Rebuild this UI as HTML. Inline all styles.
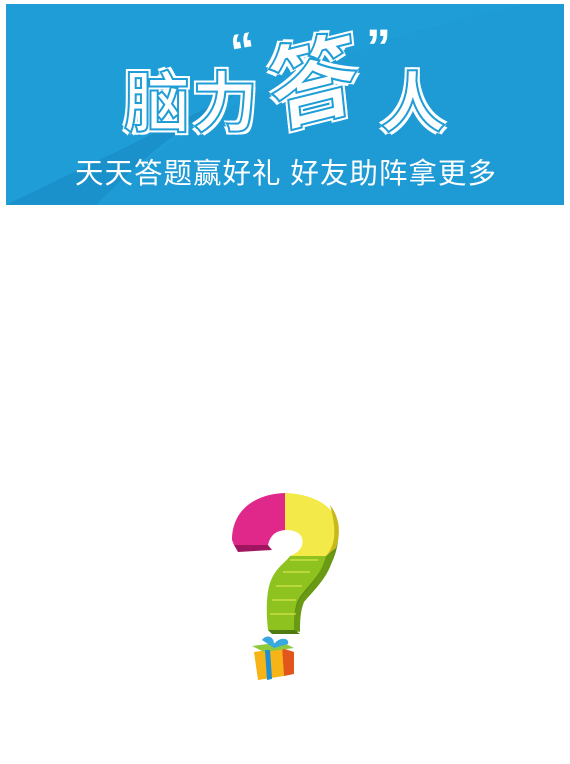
<!DOCTYPE html>
<html><head><meta charset="utf-8">
<style>
html,body{margin:0;padding:0;width:570px;height:764px;background:#fff;overflow:hidden;position:relative;font-family:"Liberation Sans","Noto Sans CJK SC",sans-serif;}
#banner{position:absolute;left:6px;top:4px;width:558px;height:201px;background:#1f9dd7;overflow:hidden;}
.t{position:absolute;color:#fff;font-weight:bold;white-space:nowrap;line-height:1;}
.title{font-size:66px;-webkit-text-stroke:2px #1f9dd7;text-shadow:0 0 0 #fff,2px 0 0 #fff,-2px 0 0 #fff,0 2px 0 #fff,0 -2px 0 #fff,3px 3px 0 #fff,-3px -3px 0 #fff,3px -3px 0 #fff,-3px 3px 0 #fff;}
#sub{position:absolute;left:69px;top:156px;font-size:28.5px;color:#fff;white-space:nowrap;line-height:1;letter-spacing:1px;}
</style></head>
<body>
<div id="banner">
  <svg width="558" height="201" style="position:absolute;left:0;top:0">
    <path d="M90,201 C180,110 330,40 520,0 L0,0 L0,201 Z" fill="#1f9dd7"/>
    <path d="M90,201 C180,110 330,40 520,0 L558,0 L558,201 Z" fill="#1e9ad4"/>
    <path d="M90,201 C140,150 190,110 250,80 L0,201 Z" fill="#1a8cc6" opacity="0.7"/>
  </svg>
  <div class="t title" style="left:118px;top:66px">脑</div>
  <div class="t title" style="left:186px;top:66px">力</div>
  <div class="t" style="left:225px;top:22px;font-size:50px;transform:rotate(-10deg)">“</div>
  <div class="t title" style="left:262px;top:34px;font-size:92px;transform:rotate(-14deg) skewX(-8deg)">答</div>
  <div class="t" style="left:360px;top:18px;font-size:50px">”</div>
  <div class="t title" style="left:374px;top:66px">人</div>
  <div id="sub">天天答题赢好礼 好友助阵拿更多</div>
</div>

<svg width="570" height="764" style="position:absolute;left:0;top:0">
  <path d="M338,522 C342,560 322,580 306,594 C298,604 298,616 298,632 L290,634 L290,600 Z" fill="#5f8f14"/>
  <path d="M232,540 C232,510 255,494 285,493 L285,530 C274,531 270,537 268,545 L234,545 Z" fill="#e0288a"/>
  <path d="M234,545 L268,545 L272,550 L238,552 Z" fill="#a0155f"/>
  <path d="M285,493 C318,494 338,510 338,528 C338,545 332,552 326,556 L290,556 C300,552 304,546 302,538 C300,532 293,530 285,530 Z" fill="#f3ea4a"/>
  <path d="M330,505 C338,515 342,530 336,548 L326,556 C334,546 338,535 330,505 Z" fill="#c9b81a"/>
  <path d="M290,556 L326,556 C322,576 306,586 298,600 C294,608 294,620 294,630 L268,630 C266,610 266,590 272,578 C278,566 286,562 290,556 Z" fill="#8dc21f"/>
  <path d="M326,556 L334,552 C332,574 314,590 304,602 C300,612 300,622 300,632 L294,630 C294,614 296,604 304,594 C314,582 322,572 326,556 Z" fill="#6a9a14"/>
  <path d="M268,630 L294,630 L300,634 L272,634 Z" fill="#4e7a10"/>
  <path d="M290,560 L318,560 M283,572 L310,572 M276,586 L302,586 M272,600 L296,600 M270,614 L296,614" stroke="#e6ef5a" stroke-width="1" fill="none"/>
  <g>
    <path d="M254,652 L282,648 L284,676 L258,680 Z" fill="#f6b417"/>
    <path d="M282,648 L294,652 L294,674 L284,676 Z" fill="#e2561b"/>
    <path d="M252,646 L282,642 L294,648 L264,652 Z" fill="#8fca3c"/>
    <path d="M265,650 L270,650 L272,679 L267,680 Z" fill="#1e8fd0"/>
    <path d="M262,640 C266,634 274,636 274,644 C280,636 290,638 288,644 L274,648 Z" fill="#3aa8e0"/>
  </g>
</svg>
</body></html>
